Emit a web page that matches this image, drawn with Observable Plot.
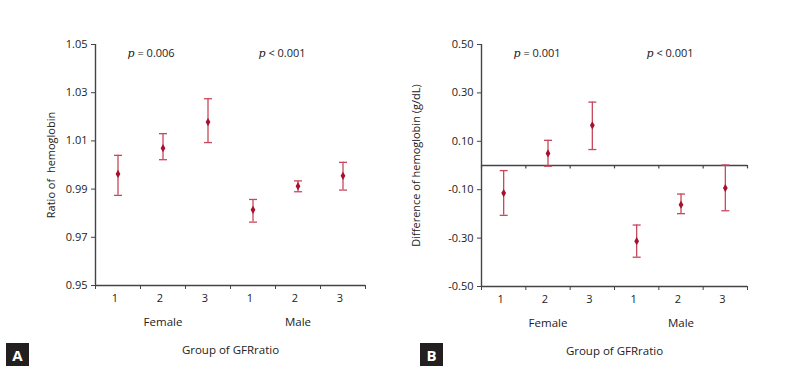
<!DOCTYPE html>
<html>
<head>
<meta charset="utf-8">
<script src="https://cdn.jsdelivr.net/npm/d3@7"></script>
<script src="https://cdn.jsdelivr.net/npm/@observablehq/plot@0.6"></script>
<style>
  html, body { margin: 0; padding: 0; background: #fff; }
  #wrap { position: relative; width: 798px; height: 380px; display: flex; font-family: "Open Sans", sans-serif; }
  .panel { position: relative; width: 399px; height: 380px; }
  .tag { position: absolute; top: 343px; width: 23px; height: 23px; background: #231f20; color: #fff;
         font: bold 15px "Open Sans", sans-serif; display: flex; align-items: center; justify-content: center; }
</style>
</head>
<body>
<div id="wrap"><div class="panel" id="pa"></div><div class="panel" id="pb"></div></div>
<script>
const groups = ["1", "2", "3", "1", "2", "3"];
const sexes = ["Female", "Female", "Female", "Male", "Male", "Male"];
const sexLabels = ["Female", "Male"];
const ratioMean = [0.9963, 1.0070, 1.0178, 0.9814, 0.9912, 0.9955];
const ratioLow  = [0.9874, 1.0022, 1.0093, 0.9763, 0.9889, 0.9896];
const ratioHigh = [1.0040, 1.0130, 1.0275, 0.9857, 0.9934, 1.0011];
const diffMean = [-0.114, 0.050, 0.166, -0.313, -0.162, -0.093];
const diffLow  = [-0.206, -0.003, 0.066, -0.379, -0.199, -0.187];
const diffHigh = [-0.021, 0.104, 0.262, -0.246, -0.118, 0.002];
const ratioTicks = [0.95, 0.97, 0.99, 1.01, 1.03, 1.05];
const diffTicks = [-0.50, -0.30, -0.10, 0.10, 0.30, 0.50];
const pTextA = ["= 0.006", "< 0.001"];
const pTextB = ["= 0.001", "< 0.001"];

const whisker = "#c8485c";
const marker = "#a8102f";
const axisColor = "#444";
const textColor = "#222";

const capSymbol = { draw(ctx, size) { const w = Math.sqrt(size / Math.PI); ctx.moveTo(-w, 0); ctx.lineTo(w, 0); } };

function makePanel(opts) {
  const rows = groups.map((g, i) => ({g, sex: sexes[i], pos: i + 0.5, mean: opts.mean[i], low: opts.low[i], high: opts.high[i]}));
  const boundaries = d3.range(0, 7);
  const [ymin, ymax] = opts.domain;
  const marks = [
    Plot.axisY({ticks: opts.ticks, tickFormat: d => d.toFixed(2), tickSize: 4, tickPadding: 4, stroke: axisColor,
      fontSize: 11, color: textColor, label: opts.label, labelAnchor: "center", labelArrow: "none", labelOffset: opts.labelOffset}),
    Plot.ruleX([0], {stroke: axisColor, strokeWidth: 1.4}),
    Plot.ruleY([ymin], {stroke: axisColor, strokeWidth: 1.4}),
    Plot.axisX({ticks: boundaries, tickFormat: () => "", tickSize: 4, stroke: axisColor, label: null}),
    Plot.text(rows, {x: "pos", y: ymin, text: "g", dy: 13, dx: -3, fontSize: 11, fill: textColor, clip: false}),
    Plot.text(sexLabels, {x: (d, i) => 1.5 + 3 * i, y: ymin, text: d => d, dy: 37, fontSize: 11.5, fill: textColor}),
    Plot.text(["Group of GFRratio"], {frameAnchor: "bottom", text: d => d, dy: 68, fontSize: 11.5, fill: textColor}),
    Plot.text(["p", "p"], {x: (d, i) => opts.pX[i], y: ymax, dy: 9, text: d => d, fontStyle: "italic", fontFamily: "DejaVu Serif", textAnchor: "start", fontSize: 11, fill: textColor}),
    Plot.text(opts.pText, {x: (d, i) => opts.pX[i], y: ymax, dy: 9, dx: 10, text: d => d, textAnchor: "start", fontSize: 11, fill: textColor})
  ];
  if (opts.zeroLine) {
    marks.push(Plot.ruleY([0], {stroke: axisColor, strokeWidth: 1.4}));
    marks.push(Plot.ruleX(boundaries, {x: d => d, y1: 0, y2: -0.014, stroke: axisColor, strokeWidth: 1.2}));
  }
  marks.push(
    Plot.ruleX(rows, {x: "pos", y1: "low", y2: "high", stroke: whisker, strokeWidth: 1.3}),
    Plot.dot(rows, {x: "pos", y: "low", symbol: capSymbol, r: 4, stroke: whisker, strokeWidth: 1.3}),
    Plot.dot(rows, {x: "pos", y: "high", symbol: capSymbol, r: 4, stroke: whisker, strokeWidth: 1.3}),
    Plot.dot(rows, {x: "pos", y: "mean", symbol: "diamond", r: 2.5, fill: marker, stroke: "none"})
  );
  return Plot.plot({
    width: 399, height: 380,
    marginLeft: opts.ml, marginRight: opts.mr, marginTop: 44, marginBottom: opts.mb,
    style: {fontFamily: "'Open Sans', sans-serif", color: textColor, background: "#fff", overflow: "visible"},
    x: {type: "linear", domain: [0, 6], axis: null},
    y: {domain: opts.domain, axis: null},
    marks
  });
}

document.getElementById("pa").appendChild(makePanel({
  mean: ratioMean, low: ratioLow, high: ratioHigh, domain: [0.95, 1.05], ticks: ratioTicks,
  label: "Ratio of  hemoglobin", labelOffset: 48, ml: 95, mr: 34, mb: 95, pX: [0.71, 3.62], pText: pTextA, zeroLine: false
}));
document.getElementById("pb").appendChild(makePanel({
  mean: diffMean, low: diffLow, high: diffHigh, domain: [-0.5, 0.5], ticks: diffTicks,
  label: "Difference of hemoglobin (g/dL)", labelOffset: 69, ml: 82, mr: 51, mb: 94, pX: [0.72, 3.72], pText: pTextB, zeroLine: true
}));

const ta = document.createElement("div"); ta.className = "tag"; ta.textContent = "A"; ta.style.left = "6px";
document.getElementById("pa").appendChild(ta);
const tb = document.createElement("div"); tb.className = "tag"; tb.textContent = "B"; tb.style.left = "21px";
document.getElementById("pb").appendChild(tb);
</script>
</body>
</html>
